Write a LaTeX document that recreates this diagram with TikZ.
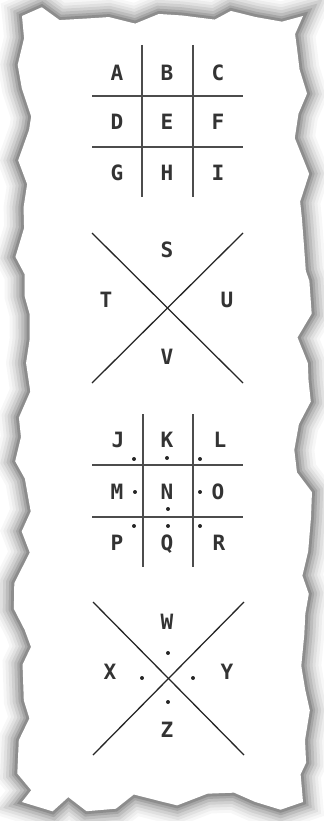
\documentclass[tikz,border=0pt]{standalone}
\usepackage{fontspec}
\newfontfamily\pigfont{DejaVu Sans Mono}
\usetikzlibrary{decorations.pathmorphing}

\begin{document}
\begin{tikzpicture}[
    x=0.03cm, y=-0.03cm,
    letter/.style={font=\pigfont\bfseries\fontsize{18}{18}\selectfont, text=black!80, inner sep=0pt, text height=13.2pt, text depth=0pt},
    pigdot/.style={circle, fill=black!85, inner sep=0pt, minimum size=3.4pt},
    gridline/.style={draw=black!70, line width=1.3pt},
    crossline/.style={draw=black!85, line width=1.1pt},
    torn/.style={decorate, decoration={random steps, segment length=20pt, amplitude=8pt}}
]
\useasboundingbox (0,0) rectangle (323,821);
\fill[white] (0,0) rectangle (323,821);

% torn paper sheet with soft shadow
\foreach \w/\o in {34/0.03, 29/0.04, 24/0.05, 19/0.07, 14/0.09, 9/0.12, 5/0.15}{
    \pgfmathsetseed{7}
    \draw[torn, line width=\w pt, draw=black, opacity=\o, line join=miter] (22,16) rectangle (303,802);
}
\pgfmathsetseed{7}
\fill[torn, white] (22,16) rectangle (303,802);

% first grid: A-I
\coordinate (g1v1t) at (142,45);  \coordinate (g1v1b) at (142,197);
\coordinate (g1v2t) at (193,45);  \coordinate (g1v2b) at (193,197);
\coordinate (g1h1l) at (92,96);   \coordinate (g1h1r) at (243,96);
\coordinate (g1h2l) at (92,147);  \coordinate (g1h2r) at (243,147);
\draw[gridline] (g1v1t) -- (g1v1b);
\draw[gridline] (g1v2t) -- (g1v2b);
\draw[gridline] (g1h1l) -- (g1h1r);
\draw[gridline] (g1h2l) -- (g1h2r);
\foreach \l/\x/\y in {A/117/73, B/167/73, C/218/73,
                      D/117/122, E/167/122, F/218/122,
                      G/117/173, H/167/173, I/218/173}
    \node[letter] (\l) at (\x,\y) {\l};

% first cross: S-V
\coordinate (x1nw) at (92,233);  \coordinate (x1se) at (243,383);
\coordinate (x1ne) at (243,233); \coordinate (x1sw) at (92,383);
\draw[crossline] (x1nw) -- (x1se);
\draw[crossline] (x1ne) -- (x1sw);
\node[letter] (S) at (167,250) {S};
\node[letter] (T) at (106,300) {T};
\node[letter] (U) at (227,300) {U};
\node[letter] (V) at (167,357) {V};

% second grid: J-R with dots
\coordinate (g2v1t) at (143,414); \coordinate (g2v1b) at (143,567);
\coordinate (g2v2t) at (193,414); \coordinate (g2v2b) at (193,567);
\coordinate (g2h1l) at (92,465);  \coordinate (g2h1r) at (243,465);
\coordinate (g2h2l) at (92,517);  \coordinate (g2h2r) at (243,517);
\draw[gridline] (g2v1t) -- (g2v1b);
\draw[gridline] (g2v2t) -- (g2v2b);
\draw[gridline] (g2h1l) -- (g2h1r);
\draw[gridline] (g2h2l) -- (g2h2r);
\foreach \l/\x/\y in {J/118/440, K/167/440, L/220/440,
                      M/117/492, N/167/492, O/218/492,
                      P/117/543, Q/167/543, R/219/543}
    \node[letter] (\l) at (\x,\y) {\l};
\foreach \n/\x/\y in {dJ/134/459, dK/167/458, dL/200/459,
                      dM/135/492, dO/200/492,
                      dN/168/509, dQ/168/526,
                      dP/134/526, dR/200/526}
    \node[pigdot] (\n) at (\x,\y) {};

% second cross: W-Z with dots
\coordinate (x2nw) at (93,602);  \coordinate (x2se) at (244,755);
\coordinate (x2ne) at (244,602); \coordinate (x2sw) at (93,755);
\draw[crossline] (x2nw) -- (x2se);
\draw[crossline] (x2ne) -- (x2sw);
\node[letter] (W) at (167,622) {W};
\node[letter] (X) at (110,672) {X};
\node[letter] (Y) at (227,672) {Y};
\node[letter] (Z) at (167,730) {Z};
\node[pigdot] (dW) at (168,653) {};
\node[pigdot] (dX) at (142,678) {};
\node[pigdot] (dY) at (193,678) {};
\node[pigdot] (dZ) at (168,702) {};
\end{tikzpicture}
\end{document}
